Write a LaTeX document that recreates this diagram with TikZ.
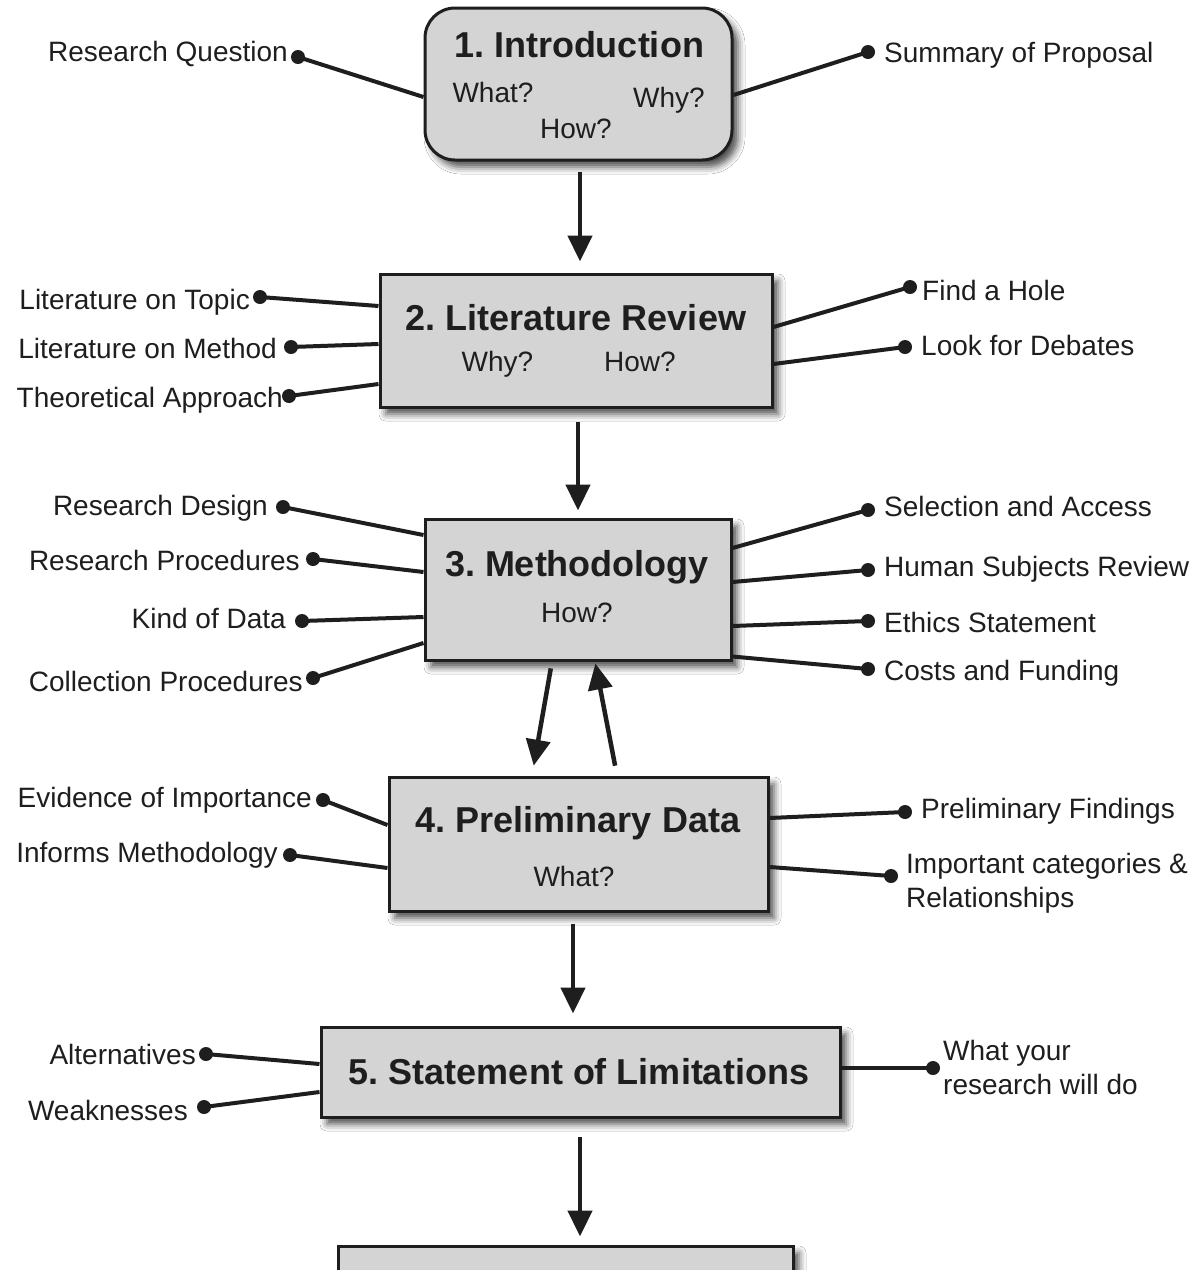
\documentclass[tikz,border=0pt]{standalone}
\usepackage{fontspec}
\setmainfont{Liberation Sans}
\usetikzlibrary{arrows.meta,shadows.blur}
\definecolor{ink}{HTML}{1E1E1E}
\definecolor{boxgray}{HTML}{D4D4D4}
\frenchspacing

\tikzset{
  stagebox/.style={draw=ink, line width=3pt, fill=boxgray, inner sep=0pt,
    blur shadow={shadow xshift=6pt, shadow yshift=-7pt, shadow blur radius=7pt, shadow opacity=70}},
  headline/.style={font=\bfseries\fontsize{36}{40}\selectfont, text=ink, inner sep=0pt, text height=26pt, text depth=0pt},
  ask/.style={font=\fontsize{28}{32}\selectfont, text=ink, inner sep=0pt, text height=20pt, text depth=0pt},
  lbl/.style={font=\fontsize{28}{34}\selectfont, text=ink, inner sep=0pt, text height=20pt, text depth=0pt},
  lbltwo/.style={font=\fontsize{28}{34}\selectfont, text=ink, inner sep=0pt, align=left},
  knob/.style={circle, fill=ink, minimum size=14pt, inner sep=0pt},
  spoke/.style={draw=ink, line width=4pt},
  flow/.style={draw=ink, line width=4.5pt, -{Triangle[length=26pt,width=24pt]}},
}

\begin{document}
\begin{tikzpicture}[x=1pt, y=-1pt]
\useasboundingbox (0,0) rectangle (1196,1270);
\fill[white] (0,0) rectangle (1196,1270);
\clip (0,0) rectangle (1196,1270);

% ---- stage boxes ----
\node[stagebox, rounded corners=30pt, minimum width=307pt, minimum height=152pt] (b1) at (578.5,84) {};
\node[stagebox, minimum width=392pt, minimum height=133pt] (b2) at (576,340.5) {};
\node[stagebox, minimum width=306pt, minimum height=141pt] (b3) at (578,589.5) {};
\node[stagebox, minimum width=379pt, minimum height=134pt] (b4) at (578.5,844) {};
\node[stagebox, minimum width=519pt, minimum height=90pt] (b5) at (580.5,1072) {};
\node[stagebox, minimum width=455pt, minimum height=94pt] (b6) at (565.5,1293) {};

% ---- box contents ----
\node[headline] (t1) at (579,44) {1. Introduction};
\node[ask] (q1a) at (493,92.5) {What?};
\node[ask] (q1b) at (669,97.5) {Why?};
\node[ask] (q1c) at (576,128) {How?};

\node[headline] (t2) at (576,317.5) {2. Literature Review};
\node[ask] (q2a) at (497.5,361) {Why?};
\node[ask] (q2b) at (640,361) {How?};

\node[headline] (t3) at (577,563) {3. Methodology};
\node[ask] (q3a) at (577,612) {How?};

\node[headline] (t4) at (578,819) {4. Preliminary Data};
\node[ask] (q4a) at (574,876) {What?};

\node[headline] (t5) at (579,1071) {5. Statement of Limitations};

% ---- flow between stages ----
\draw[flow, shorten <=10pt, shorten >=11pt] ([xshift=1.5pt]b1.south) -- ([xshift=4pt]b2.north);
\draw[flow, shorten <=13pt, shorten >=7pt] ([xshift=2pt]b2.south) -- (b3.north);
\draw[flow, shorten <=7pt, shorten >=10pt] ([xshift=-26pt]b3.south) -- ([xshift=-46.5pt]b4.north);
\draw[flow, shorten <=10pt, shorten >=2pt] ([xshift=38.5pt]b4.north) -- ([xshift=17pt]b3.south);
\draw[flow, shorten <=11pt, shorten >=12pt] ([xshift=-5.5pt]b4.south) -- ([xshift=-7.5pt]b5.north);
\draw[flow, shorten <=18pt, shorten >=8pt] ([xshift=-0.5pt]b5.south) -- ([xshift=14.5pt]b6.north);

% ---- stage 1 ----
\node[knob] (rq) at (298,57) {};
\node[lbl, anchor=east] (rqt) at (288,51) {Research Question};
\draw[spoke] (rq.center) -- ([yshift=-13pt]b1.west);
\node[knob] (sp) at (868,52) {};
\node[lbl, anchor=west] (spt) at (884,52) {Summary of Proposal};
\draw[spoke] ([yshift=-11pt]b1.east) -- (sp.center);

% ---- stage 2 ----
\node[knob] (lt) at (260,297) {};
\node[lbl, anchor=east] (ltt) at (250,299) {Literature on Topic};
\draw[spoke] (lt.center) -- ([yshift=34.5pt]b2.west);
\node[knob] (lm) at (291,347) {};
\node[lbl, anchor=east] (lmt) at (277,348) {Literature on Method};
\draw[spoke] (lm.center) -- ([yshift=-3.5pt]b2.west);
\node[knob] (ta) at (289,396) {};
\node[lbl, anchor=east] (tat) at (283,397) {Theoretical Approach};
\draw[spoke] (ta.center) -- ([yshift=-43.5pt]b2.west);
\node[knob] (fh) at (910,287) {};
\node[lbl, anchor=west] (fht) at (922,290) {Find a Hole};
\draw[spoke] ([yshift=13.5pt]b2.east) -- (fh.center);
\node[knob] (ld) at (905,347) {};
\node[lbl, anchor=west] (ldt) at (921,345) {Look for Debates};
\draw[spoke] ([yshift=-23.5pt]b2.east) -- (ld.center);

% ---- stage 3 ----
\node[knob] (rd) at (283,507) {};
\node[lbl, anchor=east] (rdt) at (268,505) {Research Design};
\draw[spoke] (rd.center) -- ([yshift=54.5pt]b3.west);
\node[knob] (rp) at (313,559) {};
\node[lbl, anchor=east] (rpt) at (300,560) {Research Procedures};
\draw[spoke] (rp.center) -- ([yshift=17.5pt]b3.west);
\node[knob] (kd) at (302,621) {};
\node[lbl, anchor=east] (kdt) at (286,618) {Kind of Data};
\draw[spoke] (kd.center) -- ([yshift=-27.5pt]b3.west);
\node[knob] (cp) at (313,678) {};
\node[lbl, anchor=east] (cpt) at (303,681) {Collection Procedures};
\draw[spoke] (cp.center) -- ([yshift=-53.5pt]b3.west);
\node[knob] (sa) at (868,510) {};
\node[lbl, anchor=west] (sat) at (884,506) {Selection and Access};
\draw[spoke] ([yshift=41.5pt]b3.east) -- (sa.center);
\node[knob] (hs) at (868,570) {};
\node[lbl, anchor=west] (hst) at (884,566) {Human Subjects Review};
\draw[spoke] ([yshift=7.5pt]b3.east) -- (hs.center);
\node[knob] (es) at (868,621) {};
\node[lbl, anchor=west] (est) at (884,622) {Ethics Statement};
\draw[spoke] ([yshift=-36.5pt]b3.east) -- (es.center);
\node[knob] (cf) at (868,669) {};
\node[lbl, anchor=west] (cft) at (884,670) {Costs and Funding};
\draw[spoke] ([yshift=-67pt]b3.east) -- (cf.center);

% ---- stage 4 ----
\node[knob] (ei) at (323,800) {};
\node[lbl, anchor=east] (eit) at (312,797) {Evidence of Importance};
\draw[spoke] (ei.center) -- ([yshift=19pt]b4.west);
\node[knob] (im) at (290,855) {};
\node[lbl, anchor=east] (imt) at (278,852) {Informs Methodology};
\draw[spoke] (im.center) -- ([yshift=-24pt]b4.west);
\node[knob] (pf) at (905,812) {};
\node[lbl, anchor=west] (pft) at (921,808) {Preliminary Findings};
\draw[spoke] ([yshift=26pt]b4.east) -- (pf.center);
\node[knob] (ic) at (891,876) {};
\node[lbltwo, anchor=west] (ict) at (906,883.5) {Important categories \&\\Relationships};
\draw[spoke] ([yshift=-23pt]b4.east) -- (ic.center);

% ---- stage 5 ----
\node[knob] (al) at (206,1054) {};
\node[lbl, anchor=east] (alt) at (196,1054) {Alternatives};
\draw[spoke] (al.center) -- ([yshift=8pt]b5.west);
\node[knob] (wk) at (204,1107) {};
\node[lbl, anchor=east] (wkt) at (188,1110) {Weaknesses};
\draw[spoke] (wk.center) -- ([yshift=-20pt]b5.west);
\node[knob] (wy) at (933,1068) {};
\node[lbltwo, anchor=west] (wyt) at (943,1067.5) {What your\\research will do};
\draw[spoke] ([yshift=4pt]b5.east) -- (wy.center);
\end{tikzpicture}
\end{document}
